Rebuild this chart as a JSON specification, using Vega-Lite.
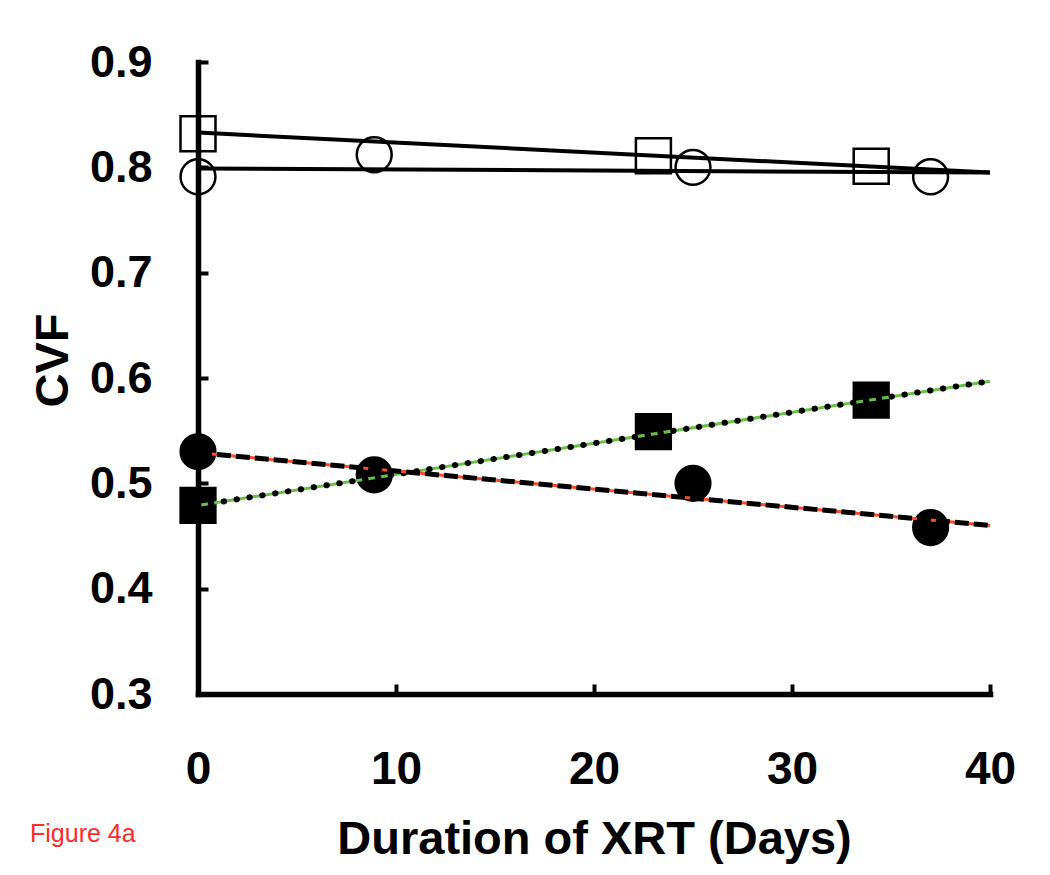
{
  "$schema": "https://vega.github.io/schema/vega-lite/v6.json",
  "width": 792,
  "height": 632,
  "autosize": "none",
  "padding": {"left": 198, "top": 62, "right": 60, "bottom": 181},
  "background": "white",
  "config": {
    "view": {"stroke": null},
    "font": "Liberation Sans",
    "axis": {
      "grid": false,
      "domainColor": "black",
      "domainWidth": 5.5,
      "domainCap": "square",
      "tickColor": "black",
      "tickWidth": 4,
      "tickSize": -10,
      "labelFont": "Liberation Sans",
      "labelFontWeight": "bold",
      "labelColor": "black",
      "labelFlush": false,
      "titleFont": "Liberation Sans",
      "titleFontWeight": "bold",
      "titleColor": "black",
      "titleFontSize": 47,
      "zindex": 1
    }
  },
  "title": {
    "text": "Figure 4a",
    "orient": "bottom",
    "anchor": "start",
    "frame": "group",
    "color": "#ff2a2a",
    "font": "Liberation Sans",
    "fontSize": 25,
    "fontWeight": "normal",
    "baseline": "alphabetic",
    "offset": 0,
    "dx": -168,
    "dy": -20
  },
  "datasets": {
    "points": [
      {"series": "open_square", "day": 0, "cvf": 0.832},
      {"series": "open_square", "day": 23, "cvf": 0.811},
      {"series": "open_square", "day": 34, "cvf": 0.801},
      {"series": "open_circle", "day": 0, "cvf": 0.791},
      {"series": "open_circle", "day": 8.9, "cvf": 0.812},
      {"series": "open_circle", "day": 25, "cvf": 0.8},
      {"series": "open_circle", "day": 37, "cvf": 0.791},
      {"series": "filled_square", "day": 0, "cvf": 0.479},
      {"series": "filled_square", "day": 23, "cvf": 0.549},
      {"series": "filled_square", "day": 34, "cvf": 0.579},
      {"series": "filled_circle", "day": 0, "cvf": 0.53},
      {"series": "filled_circle", "day": 8.9, "cvf": 0.508},
      {"series": "filled_circle", "day": 25, "cvf": 0.5},
      {"series": "filled_circle", "day": 37, "cvf": 0.458}
    ],
    "trends": [
      {"series": "open_square", "day": 0, "cvf": 0.833},
      {"series": "open_square", "day": 40, "cvf": 0.795},
      {"series": "open_circle", "day": 0, "cvf": 0.799},
      {"series": "open_circle", "day": 40, "cvf": 0.795},
      {"series": "filled_square", "day": 0, "cvf": 0.479},
      {"series": "filled_square", "day": 40, "cvf": 0.597},
      {"series": "filled_circle", "day": 0, "cvf": 0.529},
      {"series": "filled_circle", "day": 40, "cvf": 0.46}
    ]
  },
  "encoding": {
    "x": {
      "field": "day",
      "type": "quantitative",
      "scale": {"domain": [0, 40], "nice": false},
      "axis": {
        "values": [0, 10, 20, 30, 40],
        "labelFontSize": 46,
        "labelPadding": 63,
        "title": "Duration of XRT (Days)",
        "titleY": 159,
        "titleBaseline": "alphabetic"
      }
    },
    "y": {
      "field": "cvf",
      "type": "quantitative",
      "scale": {"domain": [0.3, 0.9], "nice": false, "zero": false},
      "axis": {
        "values": [0.3, 0.4, 0.5, 0.6, 0.7, 0.8, 0.9],
        "format": ".1f",
        "labelFontSize": 45,
        "labelPadding": 56,
        "title": "CVF",
        "titleAngle": 270,
        "titleX": -131,
        "titleY": 298,
        "titleBaseline": "alphabetic",
        "titleAlign": "center"
      }
    }
  },
  "layer": [
    {
      "data": {"name": "points"},
      "mark": {"type": "point", "filled": true, "stroke": "black", "strokeWidth": 2.5, "opacity": 1},
      "encoding": {
        "shape": {
          "field": "series",
          "type": "nominal",
          "scale": {"domain": ["open_square", "open_circle", "filled_square", "filled_circle"], "range": ["square", "circle", "square", "circle"]},
          "legend": null
        },
        "fill": {
          "field": "series",
          "type": "nominal",
          "scale": {"domain": ["open_square", "open_circle", "filled_square", "filled_circle"], "range": ["transparent", "transparent", "black", "black"]},
          "legend": null
        },
        "size": {
          "field": "series",
          "type": "nominal",
          "scale": {"domain": ["open_square", "open_circle", "filled_square", "filled_circle"], "range": [1225, 1200, 1150, 1300]},
          "legend": null
        }
      }
    },
    {
      "data": {"name": "trends"},
      "transform": [{"filter": "datum.series === 'open_square' || datum.series === 'open_circle'"}],
      "mark": {"type": "line", "color": "black", "strokeWidth": 4},
      "encoding": {"detail": {"field": "series", "type": "nominal"}}
    },
    {
      "data": {"name": "trends"},
      "transform": [{"filter": "datum.series === 'filled_square'"}],
      "mark": {"type": "line", "color": "#6cc04a", "strokeWidth": 3},
      "encoding": {}
    },
    {
      "data": {"name": "trends"},
      "transform": [{"filter": "datum.series === 'filled_square'"}],
      "mark": {"type": "line", "color": "black", "strokeWidth": 6, "strokeDash": [0.5, 12.5], "strokeCap": "round"},
      "encoding": {}
    },
    {
      "data": {"name": "trends"},
      "transform": [{"filter": "datum.series === 'filled_circle'"}],
      "mark": {"type": "line", "color": "#ff4a2a", "strokeWidth": 3},
      "encoding": {}
    },
    {
      "data": {"name": "trends"},
      "transform": [{"filter": "datum.series === 'filled_circle'"}],
      "mark": {"type": "line", "color": "black", "strokeWidth": 5, "strokeDash": [14, 5]},
      "encoding": {}
    }
  ]
}
